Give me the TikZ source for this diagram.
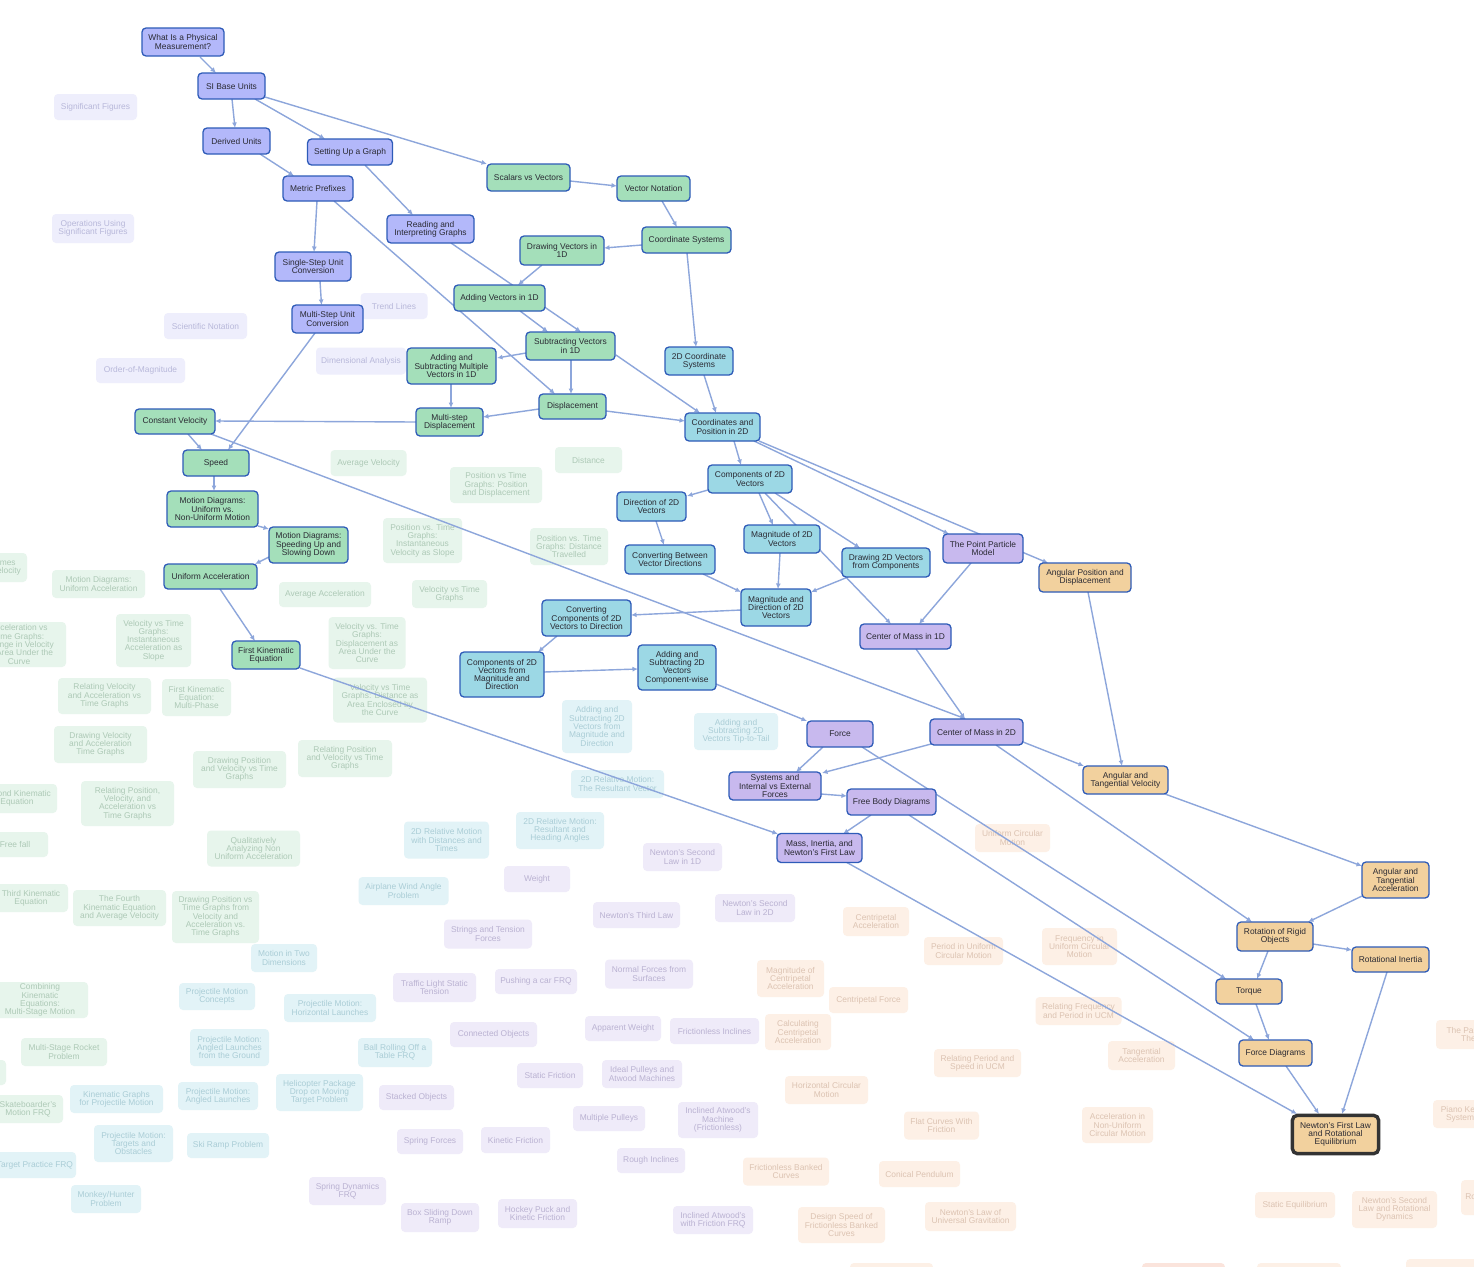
\documentclass[tikz,border=0pt]{standalone}
\usepackage{fontspec}
\setmainfont{Liberation Sans}
\usetikzlibrary{arrows.meta}
\pgfdeclarelayer{fg}
\pgfsetlayers{main,fg}
\definecolor{cU}{HTML}{B3B8FA}
\definecolor{cG}{HTML}{A4DFBA}
\definecolor{cC}{HTML}{9CD8E5}
\definecolor{cP}{HTML}{C8B9EE}
\definecolor{cO}{HTML}{F2D19E}
\definecolor{bd}{HTML}{2E5BB8}
\definecolor{tx}{HTML}{2A2A33}
\definecolor{ec}{HTML}{8DA6DB}
\definecolor{fU}{HTML}{EEEEFC}\definecolor{tU}{HTML}{B8B8DA}
\definecolor{fG}{HTML}{E7F5EC}\definecolor{tG}{HTML}{ADC9B6}
\definecolor{fC}{HTML}{E2F3F7}\definecolor{tC}{HTML}{AACDD6}
\definecolor{fP}{HTML}{EFEBF9}\definecolor{tP}{HTML}{BAB2D2}
\definecolor{fO}{HTML}{FDF0E6}\definecolor{tO}{HTML}{DCC3B2}
\definecolor{fS}{HTML}{FBE4DC}
\newcommand{\mkn}[7]{\node[#1, minimum width=#5, minimum height=#6] (#2) at (#3,#4) {#7};}
\newcommand{\mke}[6]{\draw[edge] ([shift={(#2,#3)}]#1.center) -- ([shift={(#5,#6)}]#4.center);}
\tikzset{
  base/.style={rounded corners=4pt, inner sep=0pt, align=center, font=\fontsize{8.4}{8.3}\selectfont},
  act/.style={base, draw=bd, line width=1.3pt, text=tx},
  Au/.style={act, fill=cU}, Ag/.style={act, fill=cG}, Ac/.style={act, fill=cC},
  Ap/.style={act, fill=cP}, Ao/.style={act, fill=cO},
  Fu/.style={base, fill=fU, text=tU}, Fg/.style={base, fill=fG, text=tG},
  Fc/.style={base, fill=fC, text=tC}, Fp/.style={base, fill=fP, text=tP},
  Fo/.style={base, fill=fO, text=tO}, Fs/.style={base, fill=fS},
  edge/.style={draw=ec, line width=1.4pt, -{Latex[length=5.5pt,width=5pt]}},
}
\begin{document}
\begin{tikzpicture}[x=1pt,y=-1pt]
\fill[white] (0,0) rectangle (1474,1266);
\useasboundingbox (0,0) rectangle (1474,1266);
\clip (0,0) rectangle (1474,1266);
% ---------- faded nodes ----------
\mkn{Fu}{sigfig}{95.5}{107}{83}{26}{Significant Figures}
\mkn{Fu}{opsig}{93}{228.5}{82}{29}{Operations Using\\Significant Figures}
\mkn{Fu}{scin}{205.5}{326}{83}{26}{Scientific Notation}
\mkn{Fu}{oom}{140.5}{370.5}{89}{25}{Order-of-Magnitude}
\mkn{Fu}{trend}{394}{306}{67}{26}{Trend Lines}
\mkn{Fu}{dima}{361}{361}{90}{27}{Dimensional Analysis}
\mkn{Fg}{avgv}{368.5}{463}{76}{26}{Average Velocity}
\mkn{Fg}{dist}{588.5}{460}{67}{26}{Distance}
\mkn{Fg}{pvtpd}{496}{485}{92}{36}{Position vs Time\\Graphs: Position\\and Displacement}
\mkn{Fg}{pvtiv}{422.5}{540.5}{79}{45}{Position vs. Time\\Graphs:\\Instantaneous\\Velocity as Slope}
\mkn{Fg}{pvtdt}{569}{546.5}{78}{37}{Position vs. Time\\Graphs: Distance\\Travelled}
\mkn{Fg}{vvtg}{449.5}{594}{75}{28}{Velocity vs Time\\Graphs}
\mkn{Fg}{avga}{325}{594.5}{92}{25}{Average Acceleration}
\mkn{Fg}{vvtda}{367}{643}{77}{52}{Velocity vs. Time\\Graphs:\\Displacement as\\Area Under the\\Curve}
\mkn{Fg}{mdua}{98.5}{584}{93}{28}{Motion Diagrams:\\Uniform Acceleration}
\mkn{Fg}{partA}{-18.5}{567.5}{91}{29}{Positions at Times\\and Average Velocity}
\mkn{Fg}{accvt}{19}{644.5}{94}{45}{Acceleration vs\\Time Graphs:\\Change in Velocity\\as Area Under the\\Curve}
\mkn{Fg}{vvtia}{153.5}{640.5}{75}{53}{Velocity vs Time\\Graphs:\\Instantaneous\\Acceleration as\\Slope}
\mkn{Fg}{rvat}{104.5}{696}{93}{36}{Relating Velocity\\and Acceleration vs\\Time Graphs}
\mkn{Fg}{fkemp}{196.5}{697.5}{69}{37}{First Kinematic\\Equation:\\Multi-Phase}
\mkn{Fg}{vvtdae}{380}{700}{94}{45}{Velocity vs Time\\Graphs: Distance as\\Area Enclosed by\\the Curve}
\mkn{Fg}{dvat}{100.5}{744.5}{93}{37}{Drawing Velocity\\and Acceleration\\Time Graphs}
\mkn{Fg}{dpvt}{239.5}{769.5}{93}{37}{Drawing Position\\and Velocity vs Time\\Graphs}
\mkn{Fg}{rpvt}{345}{758.5}{94}{37}{Relating Position\\and Velocity vs Time\\Graphs}
\mkn{Fg}{ske}{17}{798.5}{80}{29}{Second Kinematic\\Equation}
\mkn{Fg}{rpva}{127.5}{803.5}{93}{45}{Relating Position,\\Velocity, and\\Acceleration vs\\Time Graphs}
\mkn{Fg}{qanu}{253.5}{848.5}{93}{36}{Qualitatively\\Analyzing Non\\Uniform Acceleration}
\mkn{Fg}{ff}{15}{844.5}{66}{25}{Free fall}
\mkn{Fg}{tke}{31}{898}{74}{28}{Third Kinematic\\Equation}
\mkn{Fg}{fkav}{119.5}{908}{93}{36}{The Fourth\\Kinematic Equation\\and Average Velocity}
\mkn{Fg}{dpvtv}{215.5}{917}{87}{52}{Drawing Position vs\\Time Graphs from\\Velocity and\\Acceleration vs.\\Time Graphs}
\mkn{Fg}{cke}{40}{1000}{96}{36}{Combining\\Kinematic\\Equations:\\Multi-Stage Motion}
\mkn{Fg}{msrp}{64}{1052}{86}{28}{Multi-Stage Rocket\\Problem}
\mkn{Fg}{partB}{-30}{1072.5}{72}{25}{}
\mkn{Fg}{smf}{28}{1109}{70}{28}{Skateboarder's\\Motion FRQ}
\mkn{Fc}{as2m}{597}{726.5}{70}{53}{Adding and\\Subtracting 2D\\Vectors from\\Magnitude and\\Direction}
\mkn{Fc}{as2t}{736}{731.5}{84}{37}{Adding and\\Subtracting 2D\\Vectors Tip-to-Tail}
\mkn{Fc}{rmrv}{617.5}{784}{93}{28}{2D Relative Motion:\\The Resultant Vector}
\mkn{Fc}{rmha}{560}{830.5}{88}{37}{2D Relative Motion:\\Resultant and\\Heading Angles}
\mkn{Fc}{rmdt}{446.5}{840}{85}{37}{2D Relative Motion\\with Distances and\\Times}
\mkn{Fc}{awap}{403.5}{891}{90}{28}{Airplane Wind Angle\\Problem}
\mkn{Fc}{mitd}{284}{958}{66}{28}{Motion in Two\\Dimensions}
\mkn{Fc}{pmc}{217}{996.5}{76}{27}{Projectile Motion\\Concepts}
\mkn{Fc}{pmhl}{330}{1008}{92}{28}{Projectile Motion:\\Horizontal Launches}
\mkn{Fc}{pmalg}{229.5}{1047.5}{79}{37}{Projectile Motion:\\Angled Launches\\from the Ground}
\mkn{Fc}{brot}{395}{1052.5}{74}{29}{Ball Rolling Off a\\Table FRQ}
\mkn{Fc}{kgpm}{116.5}{1099}{93}{28}{Kinematic Graphs\\for Projectile Motion}
\mkn{Fc}{pmal}{218}{1096}{80}{28}{Projectile Motion:\\Angled Launches}
\mkn{Fc}{hpd}{319.5}{1092.5}{87}{37}{Helicopter Package\\Drop on Moving\\Target Problem}
\mkn{Fc}{pmto}{133.5}{1143.5}{79}{37}{Projectile Motion:\\Targets and\\Obstacles}
\mkn{Fc}{srp}{228}{1145.5}{82}{25}{Ski Ramp Problem}
\mkn{Fc}{tpf}{35}{1165}{82}{26}{Target Practice FRQ}
\mkn{Fc}{mhp}{106}{1199}{70}{28}{Monkey/Hunter\\Problem}
\mkn{Fp}{n2l1}{682.5}{857}{79}{28}{Newton's Second\\Law in 1D}
\mkn{Fp}{wgt}{537}{879}{66}{26}{Weight}
\mkn{Fp}{n3l}{636.5}{915}{87}{26}{Newton's Third Law}
\mkn{Fp}{n2l2}{755}{908}{80}{28}{Newton's Second\\Law in 2D}
\mkn{Fp}{stf}{488}{934}{88}{29}{Strings and Tension\\Forces}
\mkn{Fp}{tlst}{434.5}{987.5}{83}{29}{Traffic Light Static\\Tension}
\mkn{Fp}{pcf}{536}{981.5}{82}{25}{Pushing a car FRQ}
\mkn{Fp}{nfs}{649}{974}{88}{29}{Normal Forces from\\Surfaces}
\mkn{Fp}{cob}{493.5}{1034.5}{87}{25}{Connected Objects}
\mkn{Fp}{apw}{623}{1028.5}{76}{25}{Apparent Weight}
\mkn{Fp}{fri}{714.5}{1031}{89}{26}{Frictionless Inclines}
\mkn{Fp}{sfr}{550}{1075.5}{66}{25}{Static Friction}
\mkn{Fp}{ipam}{642}{1074}{80}{28}{Ideal Pulleys and\\Atwood Machines}
\mkn{Fp}{sto}{416.5}{1097.5}{75}{25}{Stacked Objects}
\mkn{Fp}{mpu}{609}{1118.5}{72}{25}{Multiple Pulleys}
\mkn{Fp}{iam}{718}{1120}{80}{36}{Inclined Atwood's\\Machine\\(Frictionless)}
\mkn{Fp}{spf}{430}{1141.5}{66}{25}{Spring Forces}
\mkn{Fp}{kfr}{515.5}{1140}{69}{26}{Kinetic Friction}
\mkn{Fp}{rin}{651}{1160.5}{68}{25}{Rough Inclines}
\mkn{Fp}{sdf}{347.5}{1191}{77}{28}{Spring Dynamics\\FRQ}
\mkn{Fp}{bsdr}{440}{1217.5}{78}{29}{Box Sliding Down\\Ramp}
\mkn{Fp}{hpkf}{537.5}{1213.5}{79}{29}{Hockey Puck and\\Kinetic Friction}
\mkn{Fp}{iawf}{713}{1220}{80}{28}{Inclined Atwood's\\with Friction FRQ}
\mkn{Fo}{ucm}{1012.5}{838}{75}{28}{Uniform Circular\\Motion}
\mkn{Fo}{cac}{876}{921.5}{66}{29}{Centripetal\\Acceleration}
\mkn{Fo}{pucm}{963.5}{951}{79}{28}{Period in Uniform\\Circular Motion}
\mkn{Fo}{fucm}{1079.5}{946.5}{75}{37}{Frequency in\\Uniform Circular\\Motion}
\mkn{Fo}{mca}{790.5}{978.5}{67}{37}{Magnitude of\\Centripetal\\Acceleration}
\mkn{Fo}{cfo}{868.5}{1000}{79}{26}{Centripetal Force}
\mkn{Fo}{rfp}{1078.5}{1011}{86}{28}{Relating Frequency\\and Period in UCM}
\mkn{Fo}{calc}{798}{1032}{66}{36}{Calculating\\Centripetal\\Acceleration}
\mkn{Fo}{rps}{977.5}{1063}{87}{28}{Relating Period and\\Speed in UCM}
\mkn{Fo}{hcm}{826.5}{1090}{83}{28}{Horizontal Circular\\Motion}
\mkn{Fo}{tac}{1141.5}{1055.5}{67}{29}{Tangential\\Acceleration}
\mkn{Fo}{fcwf}{941.5}{1125.5}{75}{28}{Flat Curves With\\Friction}
\mkn{Fo}{anuc}{1117.5}{1125}{71}{36}{Acceleration in\\Non-Uniform\\Circular Motion}
\mkn{Fo}{fbc}{786}{1171.5}{86}{28}{Frictionless Banked\\Curves}
\mkn{Fo}{cpe}{919.5}{1174}{81}{26}{Conical Pendulum}
\mkn{Fo}{dsfb}{841.5}{1225}{87}{36}{Design Speed of\\Frictionless Banked\\Curves}
\mkn{Fo}{nlug}{970.5}{1216.5}{91}{29}{Newton's Law of\\Universal Gravitation}
\mkn{Fo}{pat}{1478}{1034.5}{84}{29}{The Parallel Axis\\Theorem}
\mkn{Fo}{pks}{1460}{1114}{54}{28}{Piano Key\\System}
\mkn{Fo}{rom}{1492}{1197.5}{62}{35}{Rolling Motion}
\mkn{Fo}{steq}{1295}{1205}{80}{26}{Static Equilibrium}
\mkn{Fo}{n2rd}{1394.5}{1209.5}{85}{37}{Newton's Second\\Law and Rotational\\Dynamics}
\mkn{Fo}{bot1}{891.5}{1280}{83}{34}{}
\mkn{Fs}{bot2}{1183.5}{1280}{83}{34}{}
\mkn{Fo}{bot3}{1299}{1280}{84}{34}{}
\mkn{Fo}{bot4}{1450}{1276}{88}{34}{}
% ---------- active nodes ----------
\begin{pgfonlayer}{fg}
\mkn{Au}{wip}{183}{42}{82}{28}{What Is a Physical\\Measurement?}
\mkn{Au}{si}{231.5}{86}{67}{26}{SI Base Units}
\mkn{Au}{der}{236.5}{141}{67}{26}{Derived Units}
\mkn{Au}{set}{350}{152}{85}{26}{Setting Up a Graph}
\mkn{Au}{met}{318}{188.5}{70}{25}{Metric Prefixes}
\mkn{Au}{ssu}{313}{266.5}{76}{29}{Single-Step Unit\\Conversion}
\mkn{Au}{msu}{327.5}{319}{71}{28}{Multi-Step Unit\\Conversion}
\mkn{Au}{rig}{430.5}{229}{87}{28}{Reading and\\Interpreting Graphs}
\mkn{Ag}{svv}{528.5}{177.5}{83}{27}{Scalars vs Vectors}
\mkn{Ag}{vn}{653.5}{188.5}{73}{25}{Vector Notation}
\mkn{Ag}{cs}{686.5}{240}{89}{26}{Coordinate Systems}
\mkn{Ag}{dv1}{562}{250.5}{84}{29}{Drawing Vectors in\\1D}
\mkn{Ag}{av1}{499.5}{298}{91}{26}{Adding Vectors in 1D}
\mkn{Ag}{sv1}{570.5}{346}{89}{28}{Subtracting Vectors\\in 1D}
\mkn{Ag}{asm}{451.5}{366}{89}{36}{Adding and\\Subtracting Multiple\\Vectors in 1D}
\mkn{Ag}{disp}{572.5}{406.5}{67}{25}{Displacement}
\mkn{Ag}{msd}{449.5}{422}{67}{28}{Multi-step\\Displacement}
\mkn{Ag}{cv}{175}{421.5}{80}{25}{Constant Velocity}
\mkn{Ag}{spd}{216}{463}{66}{26}{Speed}
\mkn{Ag}{mdu}{212.5}{509}{91}{36}{Motion Diagrams:\\Uniform vs.\\Non-Uniform Motion}
\mkn{Ag}{mds}{308.5}{545}{79}{36}{Motion Diagrams:\\Speeding Up and\\Slowing Down}
\mkn{Ag}{ua}{210.5}{576.5}{93}{25}{Uniform Acceleration}
\mkn{Ag}{fke}{266}{655}{68}{28}{First Kinematic\\Equation}
\mkn{Ac}{cs2}{699}{361}{68}{28}{2D Coordinate\\Systems}
\mkn{Ac}{cp2}{722.5}{427}{75}{28}{Coordinates and\\Position in 2D}
\mkn{Ac}{c2v}{750}{479}{84}{28}{Components of 2D\\Vectors}
\mkn{Ac}{d2v}{651.5}{506.5}{69}{29}{Direction of 2D\\Vectors}
\mkn{Ac}{cbv}{670}{559.5}{90}{29}{Converting Between\\Vector Directions}
\mkn{Ac}{m2v}{782}{539}{76}{28}{Magnitude of 2D\\Vectors}
\mkn{Ac}{dfc}{886}{562.5}{88}{29}{Drawing 2D Vectors\\from Components}
\mkn{Ac}{mdv}{776}{607.5}{70}{37}{Magnitude and\\Direction of 2D\\Vectors}
\mkn{Ac}{ccd}{586.5}{618}{89}{36}{Converting\\Components of 2D\\Vectors to Direction}
\mkn{Ac}{cfm}{502}{674.5}{84}{45}{Components of 2D\\Vectors from\\Magnitude and\\Direction}
\mkn{Ac}{asc}{677}{667.5}{78}{45}{Adding and\\Subtracting 2D\\Vectors\\Component-wise}
\mkn{Ap}{ppm}{983}{548.5}{80}{29}{The Point Particle\\Model}
\mkn{Ap}{cm1}{905.5}{636.5}{91}{25}{Center of Mass in 1D}
\mkn{Ap}{cm2}{976.5}{732}{93}{26}{Center of Mass in 2D}
\mkn{Ap}{frc}{840}{734}{66}{26}{Force}
\mkn{Ap}{sie}{775}{786}{92}{28}{Systems and\\Internal vs External\\Forces}
\mkn{Ap}{fbd}{891.5}{802}{89}{26}{Free Body Diagrams}
\mkn{Ap}{min}{819.5}{848}{85}{29}{Mass, Inertia, and\\Newton's First Law}
\mkn{Ao}{apd}{1085}{577.5}{92}{29}{Angular Position and\\Displacement}
\mkn{Ao}{atv}{1125.5}{780}{85}{28}{Angular and\\Tangential Velocity}
\mkn{Ao}{ata}{1395.5}{880}{67}{36}{Angular and\\Tangential\\Acceleration}
\mkn{Ao}{ror}{1275}{936.5}{76}{29}{Rotation of Rigid\\Objects}
\mkn{Ao}{ri}{1390.5}{959.5}{77}{25}{Rotational Inertia}
\mkn{Ao}{tor}{1249}{991.5}{66}{25}{Torque}
\mkn{Ao}{fd}{1275.5}{1053}{73}{26}{Force Diagrams}
\mkn{Ao}{nfl}{1335.5}{1134.5}{85}{37}{Newton's First Law\\and Rotational\\Equilibrium}
\draw[draw=black!80, line width=3.4pt, rounded corners=5pt] (nfl.north west) rectangle (nfl.south east);
\end{pgfonlayer}
% ---------- connectors ----------
\mke{wip}{17}{15}{si}{-15.5}{-13}
\mke{si}{0.5}{13}{der}{-1.5}{-13}
\mke{si}{23.5}{13}{set}{-25}{-13}
\mke{si}{33.5}{11}{svv}{-41.5}{-13.5}
\mke{der}{23.5}{13}{met}{-24}{-12.5}
\mke{met}{-1}{12.5}{ssu}{1}{-14.5}
\mke{met}{16}{12.5}{disp}{-17.5}{-12.5}
\mke{ssu}{7}{14.5}{msu}{-6}{-14}
\mke{set}{15}{13}{rig}{-17.5}{-14}
\mke{rig}{20.5}{14}{sv1}{10.5}{-14}
\mke{svv}{41.5}{3.5}{vn}{-36.5}{-2.5}
\mke{vn}{8.5}{12.5}{cs}{-9.5}{-13}
\mke{cs}{-44.5}{5}{dv1}{42}{-2.5}
\mke{cs}{0.5}{13}{cs2}{-3}{-14}
\mke{dv1}{-20}{14.5}{av1}{18.5}{-13}
\mke{av1}{20.5}{13}{sv1}{-22.5}{-14}
\mke{sv1}{-44.5}{7}{asm}{45.5}{-8}
\mke{sv1}{0.5}{14}{disp}{-1.5}{-12.5}
\mke{sv1}{45.5}{9}{cp2}{-22.5}{-14}
\mke{cs2}{5}{14}{cp2}{-6.5}{-14}
\mke{asm}{-0.5}{18}{msd}{1.5}{-14}
\mke{disp}{-33.5}{2.5}{msd}{33.5}{-5}
\mke{disp}{33.5}{4.5}{cp2}{-37.5}{-6}
\mke{msd}{-33.5}{0}{cv}{40}{-0.5}
\mke{msu}{-12.5}{14}{spd}{12}{-13}
\mke{cv}{13}{12.5}{spd}{-14}{-13}
\mke{cv}{36}{12.5}{cm2}{-10.5}{-13}
\mke{spd}{-2}{13}{mdu}{1.5}{-18}
\mke{mdu}{45.5}{17}{mds}{-39.5}{-16}
\mke{mds}{-39.5}{12}{ua}{44.5}{-12.5}
\mke{ua}{9.5}{12.5}{fke}{-11}{-14}
\mke{fke}{34}{13}{min}{-41.5}{-14}
\mke{cp2}{11.5}{14}{c2v}{-9}{-14}
\mke{cp2}{31.5}{14}{ppm}{-34}{-14.5}
\mke{cp2}{36.5}{14}{apd}{-37}{-14.5}
\mke{c2v}{-42}{11}{d2v}{35.5}{-10.5}
\mke{c2v}{9}{14}{m2v}{-9}{-14}
\mke{c2v}{25}{14}{dfc}{-26}{-14.5}
\mke{c2v}{15}{14}{cm1}{-14.5}{-12.5}
\mke{m2v}{-2}{14}{mdv}{2}{-18.5}
\mke{dfc}{-38}{14.5}{mdv}{35}{-15.5}
\mke{d2v}{4.5}{14.5}{cbv}{-6}{-14.5}
\mke{cbv}{33}{14.5}{mdv}{-35}{-15.5}
\mke{mdv}{-35}{2.5}{ccd}{44.5}{-3}
\mke{ccd}{-29.5}{18}{cfm}{36}{-22.5}
\mke{cfm}{42}{-2.5}{asc}{-39}{1.5}
\mke{asc}{39}{16.5}{frc}{-33}{-13}
\mke{ppm}{-12}{14.5}{cm1}{13.5}{-12.5}
\mke{cm1}{10.5}{12.5}{cm2}{-11.5}{-13}
\mke{cm2}{-45.5}{12}{sie}{47}{-13}
\mke{cm2}{46.5}{10}{atv}{-41.5}{-14}
\mke{cm2}{19.5}{13}{ror}{-23}{-14.5}
\mke{frc}{-17}{13}{sie}{21}{-14}
\mke{frc}{22}{13}{tor}{-23}{-12.5}
\mke{sie}{46}{8}{fbd}{-44.5}{-6}
\mke{fbd}{-20.5}{13}{min}{23.5}{-14}
\mke{fbd}{17.5}{13}{fd}{-21.5}{-13}
\mke{min}{26.5}{14}{nfl}{-38.5}{-20.5}
\mke{apd}{3}{14.5}{atv}{-3.5}{-14}
\mke{atv}{39.5}{14}{ata}{-33.5}{-14}
\mke{ata}{-33.5}{16}{ror}{33}{-14.5}
\mke{ror}{38}{7.5}{ri}{-38.5}{-9.5}
\mke{ror}{-7}{14.5}{tor}{8}{-12.5}
\mke{tor}{7}{12.5}{fd}{-6.5}{-13}
\mke{fd}{10.5}{13}{nfl}{-16.5}{-20.5}
\mke{ri}{-3.5}{12.5}{nfl}{6.5}{-20.5}
\end{tikzpicture}
\end{document}
